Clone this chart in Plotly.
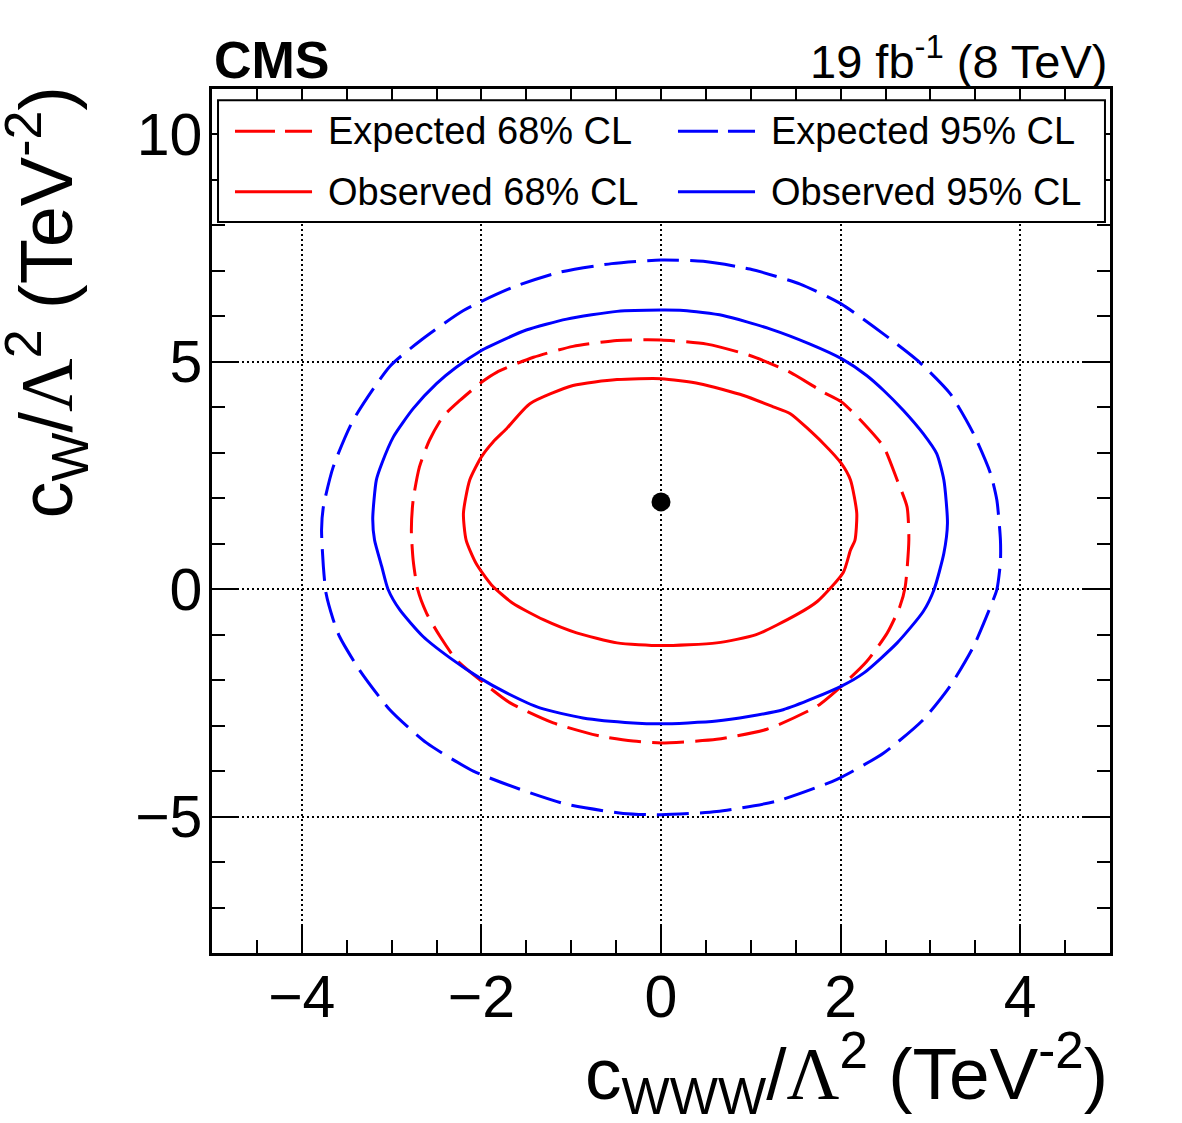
import plotly.graph_objects as go

# ---------------- data ----------------
exp95_x = [0, 0.47, 0.99, 1.55, 2.01, 2.48, 2.88, 3.22, 3.48, 3.67, 3.74, 3.78,
           3.78, 3.74, 3.67, 3.48, 3.22, 2.92, 2.48, 1.96, 1.29, 0.62, 0,
           -0.42, -1.05, -1.57, -2.09, -2.61, -3.02, -3.36, -3.58, -3.65, -3.73, -3.76, -3.78,
           -3.76, -3.65, -3.43, -3.02, -2.67, -2.20, -1.65, -1.13, -0.55, 0]
exp95_y = [7.24, 7.21, 7.04, 6.71, 6.27, 5.61, 4.99, 4.30, 3.42, 2.54, 1.96, 1.08,
           0.60, -0.01, -0.38, -1.26, -2.13, -2.87, -3.60, -4.18, -4.66, -4.89, -4.96,
           -4.93, -4.73, -4.40, -4.00, -3.38, -2.65, -1.77, -1.04, -0.67, -0.09, 0.50, 1.30,
           1.81, 2.69, 3.71, 4.90, 5.48, 6.13, 6.64, 6.97, 7.16, 7.24]

obs95_x = [0, 0.25, 0.69, 1.22, 1.66, 2.01, 2.29, 2.48, 2.70, 2.92, 3.07, 3.15, 3.19,
           3.15, 3.04, 2.92, 2.63, 2.26, 2.01, 1.36, 0.62, 0,
           -0.31, -0.87, -1.35, -1.72, -2.02, -2.35, -2.65, -2.91, -3.04, -3.11, -3.19, -3.21,
           -3.17, -3.11, -2.98, -2.76, -2.50, -2.28, -2.00, -1.91, -1.50, -1.05, -0.49, 0]
obs95_y = [6.14, 6.13, 6.02, 5.72, 5.39, 5.07, 4.70, 4.37, 3.93, 3.42, 2.98, 2.40, 1.45,
           0.79, -0.01, -0.49, -1.18, -1.84, -2.13, -2.65, -2.90, -2.96,
           -2.94, -2.83, -2.61, -2.28, -1.95, -1.51, -1.04, -0.45, 0.0, 0.50, 1.08, 1.55,
           2.40, 2.76, 3.35, 3.97, 4.52, 4.88, 5.25, 5.34, 5.70, 5.94, 6.11, 6.14]

exp68_x = [0, 0.51, 0.99, 1.44, 1.81, 2.01, 2.26, 2.48, 2.63, 2.74, 2.76,
           2.72, 2.66, 2.52, 2.29, 2.01, 1.74, 1.18, 0.62, 0,
           -0.31, -0.68, -1.20, -1.68, -2.02, -2.28, -2.46, -2.61, -2.71, -2.76, -2.78,
           -2.76, -2.69, -2.58, -2.43, -2.24, -2.00, -1.83, -1.42, -0.98, -0.49, 0]
exp68_y = [5.48, 5.39, 5.14, 4.77, 4.33, 4.12, 3.64, 3.13, 2.40, 1.81, 1.08,
           0.06, -0.38, -0.96, -1.59, -2.13, -2.57, -3.08, -3.30, -3.38,
           -3.34, -3.23, -2.94, -2.50, -1.99, -1.55, -1.04, -0.53, 0.0, 0.64, 1.30,
           1.96, 2.69, 3.27, 3.79, 4.15, 4.55, 4.77, 5.10, 5.34, 5.47, 5.48]

obs68_x = [0, 0.43, 0.92, 1.25, 1.44, 1.81, 2.01, 2.11, 2.18, 2.16, 2.11,
           2.03, 1.74, 1.51, 1.06, 0.62, 0,
           -0.49, -0.94, -1.31, -1.65, -1.89, -2.06, -2.17, -2.20,
           -2.13, -2.00, -1.87, -1.72, -1.46, -0.98, -0.49, 0]
obs68_y = [4.63, 4.52, 4.26, 4.01, 3.86, 3.20, 2.76, 2.40, 1.67, 1.08, 0.86,
           0.37, -0.27, -0.56, -1.00, -1.18, -1.24,
           -1.18, -0.96, -0.67, -0.31, 0.10, 0.57, 1.08, 1.67,
           2.40, 2.91, 3.24, 3.53, 4.08, 4.48, 4.61, 4.63]

best_x = [0.0]
best_y = [1.92]

x_ticks = [-4, -2, 0, 2, 4]
y_ticks = [-5, 0, 5, 10]

legend_labels = ["Expected 68% CL", "Observed 68% CL", "Expected 95% CL", "Observed 95% CL"]

# ---------------- styling ----------------
FONT = "Liberation Sans, Arial, Helvetica, sans-serif"
RED = "#ff0000"
BLUE = "#0000ff"
DASH = "32px,11px"

fig = go.Figure()

curves = [
    (exp68_x, exp68_y, RED, DASH, legend_labels[0]),
    (obs68_x, obs68_y, RED, "solid", legend_labels[1]),
    (exp95_x, exp95_y, BLUE, DASH, legend_labels[2]),
    (obs95_x, obs95_y, BLUE, "solid", legend_labels[3]),
]
for cx, cy, col, dash, name in curves:
    fig.add_trace(go.Scatter(
        x=cx, y=cy, mode="lines", name=name, showlegend=False,
        line=dict(color=col, width=3, dash=dash, shape="spline", smoothing=0.6),
    ))

fig.add_trace(go.Scatter(
    x=best_x, y=best_y, mode="markers", showlegend=False,
    marker=dict(color="black", size=19),
))

axis_common = dict(
    ticks="inside", tickwidth=2, tickcolor="black",
    showline=True, linewidth=2.5, linecolor="black", mirror="allticks",
    showgrid=True, gridcolor="black", gridwidth=1.5, griddash="2px,3px",
    zeroline=False, tickfont=dict(family=FONT, size=59, color="black"),
)

fig.update_xaxes(
    range=[-5, 5], tickmode="array", tickvals=x_ticks,
    ticktext=[str(v).replace("-", "\u2212") for v in x_ticks],
    ticklen=27, ticklabelstandoff=-10,
    minor=dict(ticks="inside", ticklen=13, dtick=0.5, tick0=0, tickwidth=2,
               tickcolor="black", showgrid=False),
    **axis_common,
)
fig.update_yaxes(
    range=[-8, 11], tickmode="array", tickvals=y_ticks,
    ticktext=[str(v).replace("-", "\u2212") for v in y_ticks],
    ticklen=27, ticklabelstandoff=-5,
    minor=dict(ticks="inside", ticklen=13, dtick=1, tick0=0, tickwidth=2,
               tickcolor="black", showgrid=False),
    **axis_common,
)

# ---------------- legend (drawn inside the frame, ROOT style) ----------------
shapes = [dict(type="rect", xref="x domain", yref="y domain",
               x0=0.0067, x1=0.9944, y0=0.846, y1=0.987,
               fillcolor="white", line=dict(color="black", width=2), layer="above")]
annotations = []
rows_y = [0.951, 0.881]
cols = [(0.0256, 0.1114, 0.127), (0.5189, 0.6047, 0.620)]
entries = [
    (0, 0, RED, DASH, legend_labels[0]),
    (0, 1, RED, "solid", legend_labels[1]),
    (1, 0, BLUE, DASH, legend_labels[2]),
    (1, 1, BLUE, "solid", legend_labels[3]),
]
for ci, ri, col, dash, label in entries:
    lx0, lx1, tx = cols[ci]
    yy = rows_y[ri]
    shapes.append(dict(type="line", xref="x domain", yref="y domain",
                       x0=lx0, x1=lx1, y0=yy, y1=yy, layer="above",
                       line=dict(color=col, width=3,
                                 dash="40px,10px" if dash != "solid" else "solid")))
    annotations.append(dict(xref="x domain", yref="y domain", x=tx, y=yy,
                            text=label, showarrow=False, xanchor="left", yanchor="middle",
                            font=dict(family=FONT, size=38, color="black")))

LAM = "<span style=\"font-family:'Liberation Serif', 'Times New Roman', serif\">\u039b</span>"
annotations += [
    dict(xref="paper", yref="paper", x=0.0, y=1.034, xanchor="left", yanchor="middle",
         text="<b>CMS</b>", showarrow=False, font=dict(family=FONT, size=52, color="black")),
    dict(xref="paper", yref="paper", x=1.0, y=1.036, xanchor="right", yanchor="middle",
         text="19 fb<sup>-1</sup> (8 TeV)", showarrow=False,
         font=dict(family=FONT, size=47, color="black")),
    dict(xref="paper", yref="paper", x=1.0, y=-0.14, xanchor="right", yanchor="middle",
         text="c<sub>WWW</sub>/" + LAM + "<sup>2</sup> (TeV<sup>-2</sup>)", showarrow=False,
         font=dict(family=FONT, size=73, color="black")),
    dict(xref="paper", yref="paper", x=-0.184, y=1.005, xanchor="center", yanchor="top",
         textangle=-90,
         text="c<sub>W</sub>/" + LAM + "<sup>2</sup> (TeV<sup>-2</sup>)", showarrow=False,
         font=dict(family=FONT, size=74, color="black")),
]

fig.update_layout(
    width=1182, height=1123,
    margin=dict(l=212, r=72, t=89, b=170),
    paper_bgcolor="white", plot_bgcolor="white",
    shapes=shapes, annotations=annotations,
    font=dict(family=FONT, color="black"),
    showlegend=False,
)

fig.write_html("out.html")
